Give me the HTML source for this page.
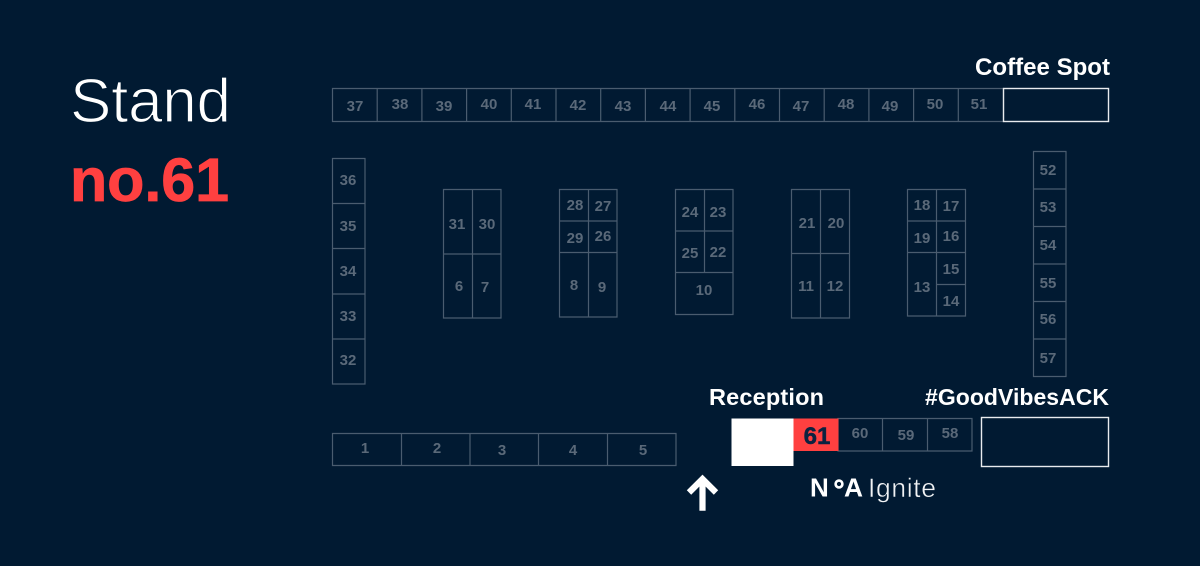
<!DOCTYPE html>
<html lang="en"><head><meta charset="utf-8"><title>Stand no.61</title>
<style>
html,body{margin:0;padding:0;background:#011a32;width:1200px;height:566px;overflow:hidden}
svg{display:block}
text{font-family:"Liberation Sans",sans-serif}
.l{font-size:15px;font-weight:700;fill:#5a6979;text-anchor:middle}
.g{fill:none;stroke:#4a5c6f;stroke-width:1.2}
.h{font-weight:700;fill:#fff}
</style></head><body>
<svg width="1200" height="566" viewBox="0 0 1200 566" xmlns="http://www.w3.org/2000/svg">
<rect width="1200" height="566" fill="#011a32"/>
<text x="70" y="122" font-size="62" fill="#fff" stroke="#011a32" stroke-width="1.3" textLength="161" lengthAdjust="spacing">Stand</text>
<text x="70" y="201" font-size="61" font-weight="700" fill="#ff4040" stroke="#ff4040" stroke-width=".8" textLength="159">no.61</text>
<text class="h" x="975" y="75" font-size="24" textLength="135">Coffee Spot</text>
<text class="h" x="709" y="405" font-size="23.5" textLength="115">Reception</text>
<text class="h" x="925" y="405" font-size="23" textLength="184">#GoodVibesACK</text>

<path class="g" d="M332.5 88.5H1003.5V121.5H332.5ZM377.2 88.5V121.5M421.9 88.5V121.5M466.6 88.5V121.5M511.3 88.5V121.5M556 88.5V121.5M600.7 88.5V121.5M645.4 88.5V121.5M690.1 88.5V121.5M734.8 88.5V121.5M779.5 88.5V121.5M824.2 88.5V121.5M868.9 88.5V121.5M913.6 88.5V121.5M958.3 88.5V121.5"/>
<rect x="1003.5" y="88.5" width="105" height="33" fill="none" stroke="#e8ebee" stroke-width="1.4"/>
<path class="g" d="M332.5 158.5H365V384H332.5ZM332.5 203.5H365M332.5 248.5H365M332.5 294H365M332.5 339H365"/>
<path class="g" d="M443.5 189.5H501V318H443.5ZM472.5 189.5V318M443.5 254H501"/>
<path class="g" d="M559.5 189.5H617V317H559.5ZM588.5 189.5V317M559.5 221H617M559.5 252.5H617"/>
<path class="g" d="M675.5 189.5H733V314.5H675.5ZM704.5 189.5V272.5M675.5 231H733M675.5 272.5H733"/>
<path class="g" d="M791.5 189.5H849.5V318H791.5ZM820.5 189.5V318M791.5 253.5H849.5"/>
<path class="g" d="M907.5 189.5H965.5V316H907.5ZM936.5 189.5V316M907.5 221H965.5M907.5 252.5H965.5M936.5 284.5H965.5"/>
<path class="g" d="M1033.5 151.5H1066V376.5H1033.5ZM1033.5 189H1066M1033.5 226.5H1066M1033.5 264H1066M1033.5 301.5H1066M1033.5 339H1066"/>
<path class="g" d="M332.5 433.5H676V465.5H332.5ZM401.5 433.5V465.5M470 433.5V465.5M538.5 433.5V465.5M607.5 433.5V465.5"/>
<path class="g" d="M838 418.5H972V451H838ZM882.5 418.5V451M927.5 418.5V451"/>
<rect x="731.5" y="418.5" width="62" height="47.5" fill="#fff"/>
<rect x="793.5" y="418.5" width="45" height="32.5" fill="#ff4040"/>
<rect x="981.5" y="417.5" width="127" height="49" fill="none" stroke="#e8ebee" stroke-width="1.4"/>
<text x="817" y="444" font-size="24" font-weight="700" fill="#0c2240" stroke="#0c2240" stroke-width=".5" text-anchor="middle">61</text>

<g>
<text class="l" x="355" y="111">37</text><text class="l" x="400" y="109">38</text><text class="l" x="444" y="111">39</text><text class="l" x="489" y="109">40</text><text class="l" x="533" y="109">41</text><text class="l" x="578" y="110">42</text><text class="l" x="623" y="111">43</text><text class="l" x="668" y="111">44</text><text class="l" x="712" y="111">45</text><text class="l" x="757" y="109">46</text><text class="l" x="801" y="111">47</text><text class="l" x="846" y="109">48</text><text class="l" x="890" y="111">49</text><text class="l" x="935" y="109">50</text><text class="l" x="979" y="109">51</text>
<text class="l" x="348" y="185">36</text><text class="l" x="348" y="231">35</text><text class="l" x="348" y="276">34</text><text class="l" x="348" y="321">33</text><text class="l" x="348" y="365">32</text>
<text class="l" x="457" y="229">31</text><text class="l" x="487" y="229">30</text><text class="l" x="459" y="291">6</text><text class="l" x="485" y="292">7</text>
<text class="l" x="575" y="210">28</text><text class="l" x="603" y="211">27</text><text class="l" x="575" y="243">29</text><text class="l" x="603" y="241">26</text><text class="l" x="574" y="290">8</text><text class="l" x="602" y="292">9</text>
<text class="l" x="690" y="217">24</text><text class="l" x="718" y="217">23</text><text class="l" x="690" y="258">25</text><text class="l" x="718" y="257">22</text><text class="l" x="704" y="295">10</text>
<text class="l" x="807" y="228">21</text><text class="l" x="836" y="228">20</text><text class="l" x="806" y="291">11</text><text class="l" x="835" y="291">12</text>
<text class="l" x="922" y="210">18</text><text class="l" x="951" y="211">17</text><text class="l" x="922" y="243">19</text><text class="l" x="951" y="241">16</text><text class="l" x="922" y="292">13</text><text class="l" x="951" y="274">15</text><text class="l" x="951" y="306">14</text>
<text class="l" x="1048" y="175">52</text><text class="l" x="1048" y="212">53</text><text class="l" x="1048" y="250">54</text><text class="l" x="1048" y="288">55</text><text class="l" x="1048" y="324">56</text><text class="l" x="1048" y="363">57</text>
<text class="l" x="365" y="453">1</text><text class="l" x="437" y="453">2</text><text class="l" x="502" y="455">3</text><text class="l" x="573" y="455">4</text><text class="l" x="643" y="455">5</text>
<text class="l" x="860" y="438">60</text><text class="l" x="906" y="440">59</text><text class="l" x="950" y="438">58</text>
</g>

<path d="M702.5 510.7V479M689 492.5L702.5 479L716 492.5" fill="none" stroke="#fff" stroke-width="6.2"/>

<text x="810" y="496.5" font-size="26" font-weight="700" fill="#fff">N</text>
<circle cx="839" cy="484" r="3.4" fill="none" stroke="#fff" stroke-width="2.6"/>
<text x="844" y="496.5" font-size="26" font-weight="700" fill="#fff" textLength="19" lengthAdjust="spacingAndGlyphs">A</text>
<text x="868" y="497" font-size="26.5" fill="#f1f3f5" stroke="#011a32" stroke-width=".5" textLength="68">Ignite</text>
</svg>
</body></html>
